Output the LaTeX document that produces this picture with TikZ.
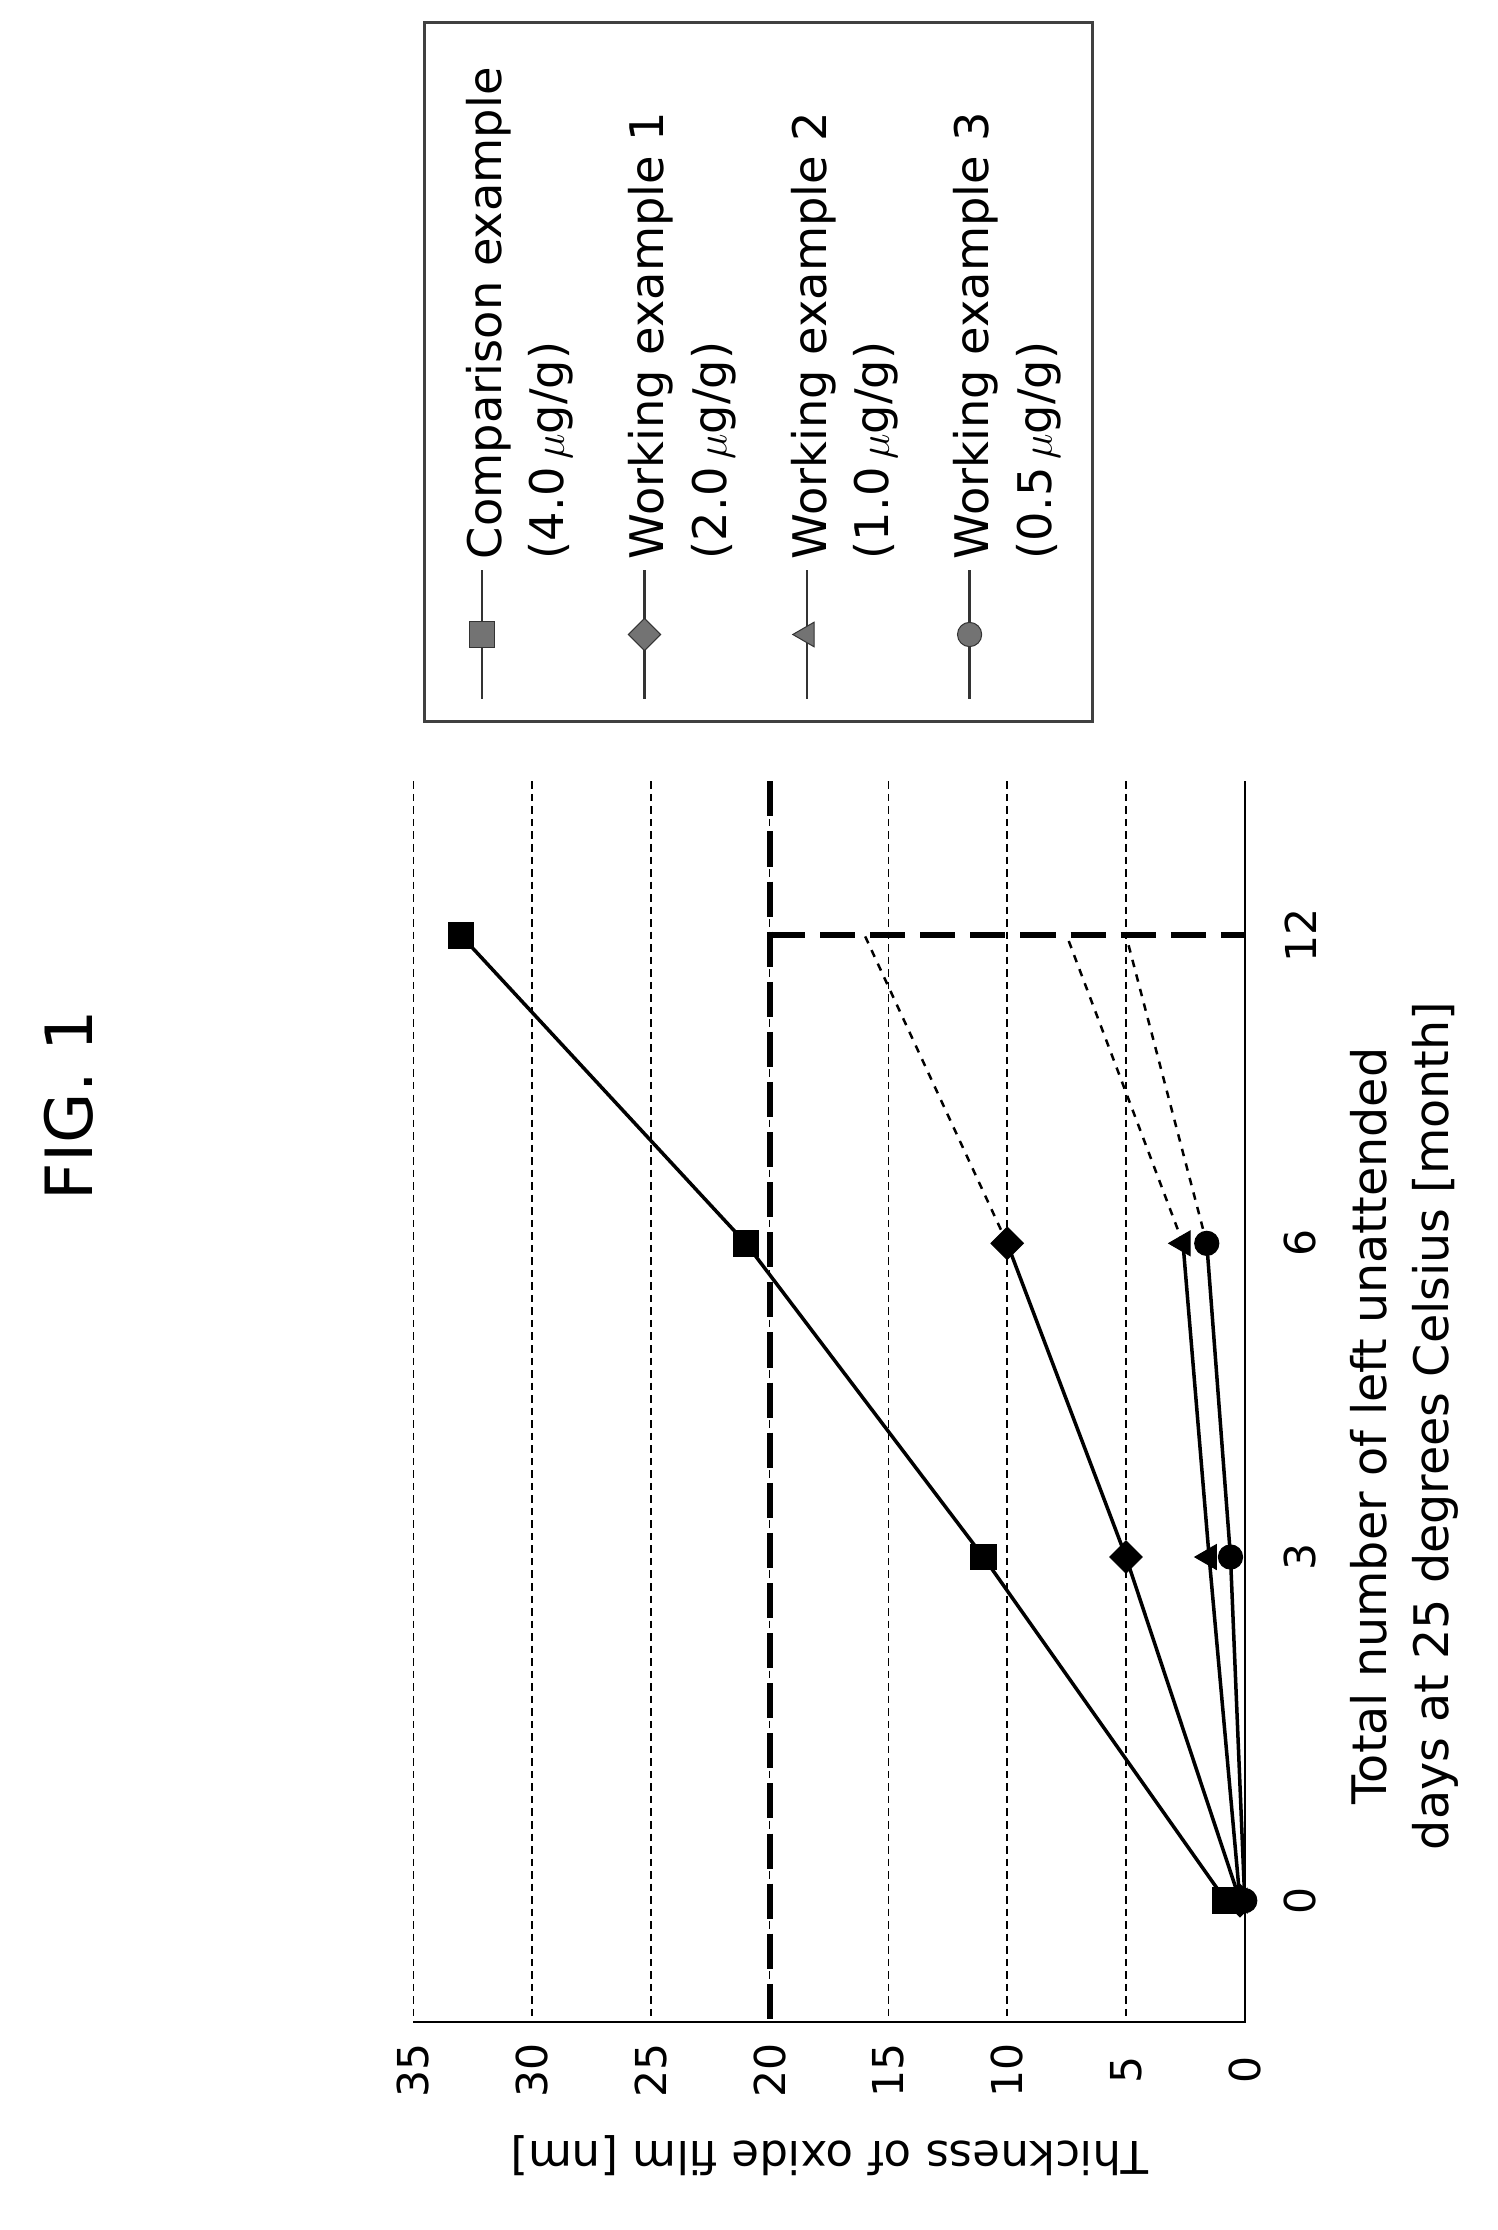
\documentclass[tikz,border=0pt]{standalone}
\usepackage{fontspec}
\setmainfont{DejaVu Sans}
\usetikzlibrary{shapes.geometric}
\tikzset{
	grid/.style={densely dashed, line width=0.6pt},
	series/.style={line width=1.4pt},
	extra/.style={dashed, line width=1pt},
	limit/.style={dash pattern=on 14pt off 6pt, line width=2.4pt},
	sq/.style={draw, fill=black, rectangle, minimum size=0.36cm, inner sep=0pt},
	dia/.style={draw, fill=black, diamond, minimum size=0.46cm, inner sep=0pt},
	tri/.style={draw, fill=black, isosceles triangle, isosceles triangle apex angle=60, shape border rotate=180, minimum size=0.3cm, inner sep=0pt},
	dot/.style={draw, fill=black, circle, minimum size=0.34cm, inner sep=0pt},
	tick/.style={rotate=90, font=\fontsize{17}{20}\selectfont},
	legtext/.style={rotate=90, anchor=north west, align=left, inner sep=2pt, font=\fontsize{18.5}{25}\selectfont},
}
\begin{document}
\begin{tikzpicture}[x=0.02cm, y=-0.02cm]
	\useasboundingbox (0,0) rectangle (1050,1564);
	% caption
	\node (fig) [rotate=90, font=\fontsize{26}{30}\selectfont] at (48,775) {FIG. 1};
	% grid and axes
	\foreach \v in {5,10,...,35} {
		\draw [grid] ({873-16.66*\v},548) -- ({873-16.66*\v},1418);
		\node [tick] at ({873-16.66*\v},1452) {\v};
	}
	\node [tick] at (873,1452) {0};
	\coordinate (origin) at (873,1418);
	\coordinate (ytop) at (290,1418);
	\coordinate (xtop) at (873,548);
	\draw [line width=0.8pt] (ytop) -- (origin) -- (xtop);
	\foreach \m/\p in {0/1333,3/1092,6/872,12/656} {
		\node [tick] at (912,\p) {\m};
	}
	\node (ylabel) [rotate=180, font=\fontsize{18}{22}\selectfont] at (582,1512) {Thickness of oxide film [nm]};
	\node (xlabel) [rotate=90, align=center, font=\fontsize{19}{25}\selectfont] at (985,1000) {Total number of left unattended\\days at 25 degrees Celsius [month]};
	% limits
	\coordinate (lima) at (540,548);
	\coordinate (limb) at (540,1418);
	\coordinate (limc) at (873,656);
	\draw [limit] (lima) -- (limb);
	\draw [limit] (540,656) -- (limc);
	% data
	\def\X#1{873-16.66*#1}
	\coordinate (c0) at ({\X{0.8}},1333); \coordinate (c3) at ({\X{11}},1092);
	\coordinate (c6) at ({\X{21}},872); \coordinate (c12) at ({\X{33}},656);
	\coordinate (a0) at ({\X{0.2}},1333); \coordinate (a3) at ({\X{5}},1092);
	\coordinate (a6) at ({\X{10}},872); \coordinate (a12) at ({\X{16}},656);
	\coordinate (b0) at ({\X{0.2}},1333); \coordinate (b3) at ({\X{1.5}},1092);
	\coordinate (b6) at ({\X{2.6}},872); \coordinate (b12) at ({\X{7.5}},656);
	\coordinate (d0) at ({\X{0}},1333); \coordinate (d3) at ({\X{0.6}},1092);
	\coordinate (d6) at ({\X{1.6}},872); \coordinate (d12) at ({\X{5}},656);
	\draw [series] (c0) -- (c3) -- (c6) -- (c12);
	\draw [series] (a0) -- (a3) -- (a6);
	\draw [series] (b0) -- (b3) -- (b6);
	\draw [series] (d0) -- (d3) -- (d6);
	\draw [extra] (a6) -- (a12);
	\draw [extra] (b6) -- (b12);
	\draw [extra] (d6) -- (d12);
	\foreach \k in {0,3,6,12} \node [sq] at (c\k) {};
	\foreach \k in {0,3,6} {
		\node [dia] at (a\k) {};
		\node [tri] at (b\k) {};
		\node [dot] at (d\k) {};
	}
	% legend
	\node (legend) [draw=black!75, line width=1.2pt, minimum width=9.36cm, minimum height=9.8cm, anchor=north west] at (297,15) {};
	\foreach \x/\s/\t [count=\i] in {338/sq/{Comparison example\\(4.0\,$\mu$g/g)}, 452/dia/{Working example 1\\(2.0\,$\mu$g/g)}, 566/tri/{Working example 2\\(1.0\,$\mu$g/g)}, 680/dot/{Working example 3\\(0.5\,$\mu$g/g)}} {
		\draw [line width=1pt, black!80] (\x,490) -- (\x,400);
		\node (mark\i) [\s, fill=black!55, draw=black!80] at (\x,445) {};
		\node (entry\i) [legtext] at (\x-15,396) {\t};
	}
\end{tikzpicture}
\end{document}
